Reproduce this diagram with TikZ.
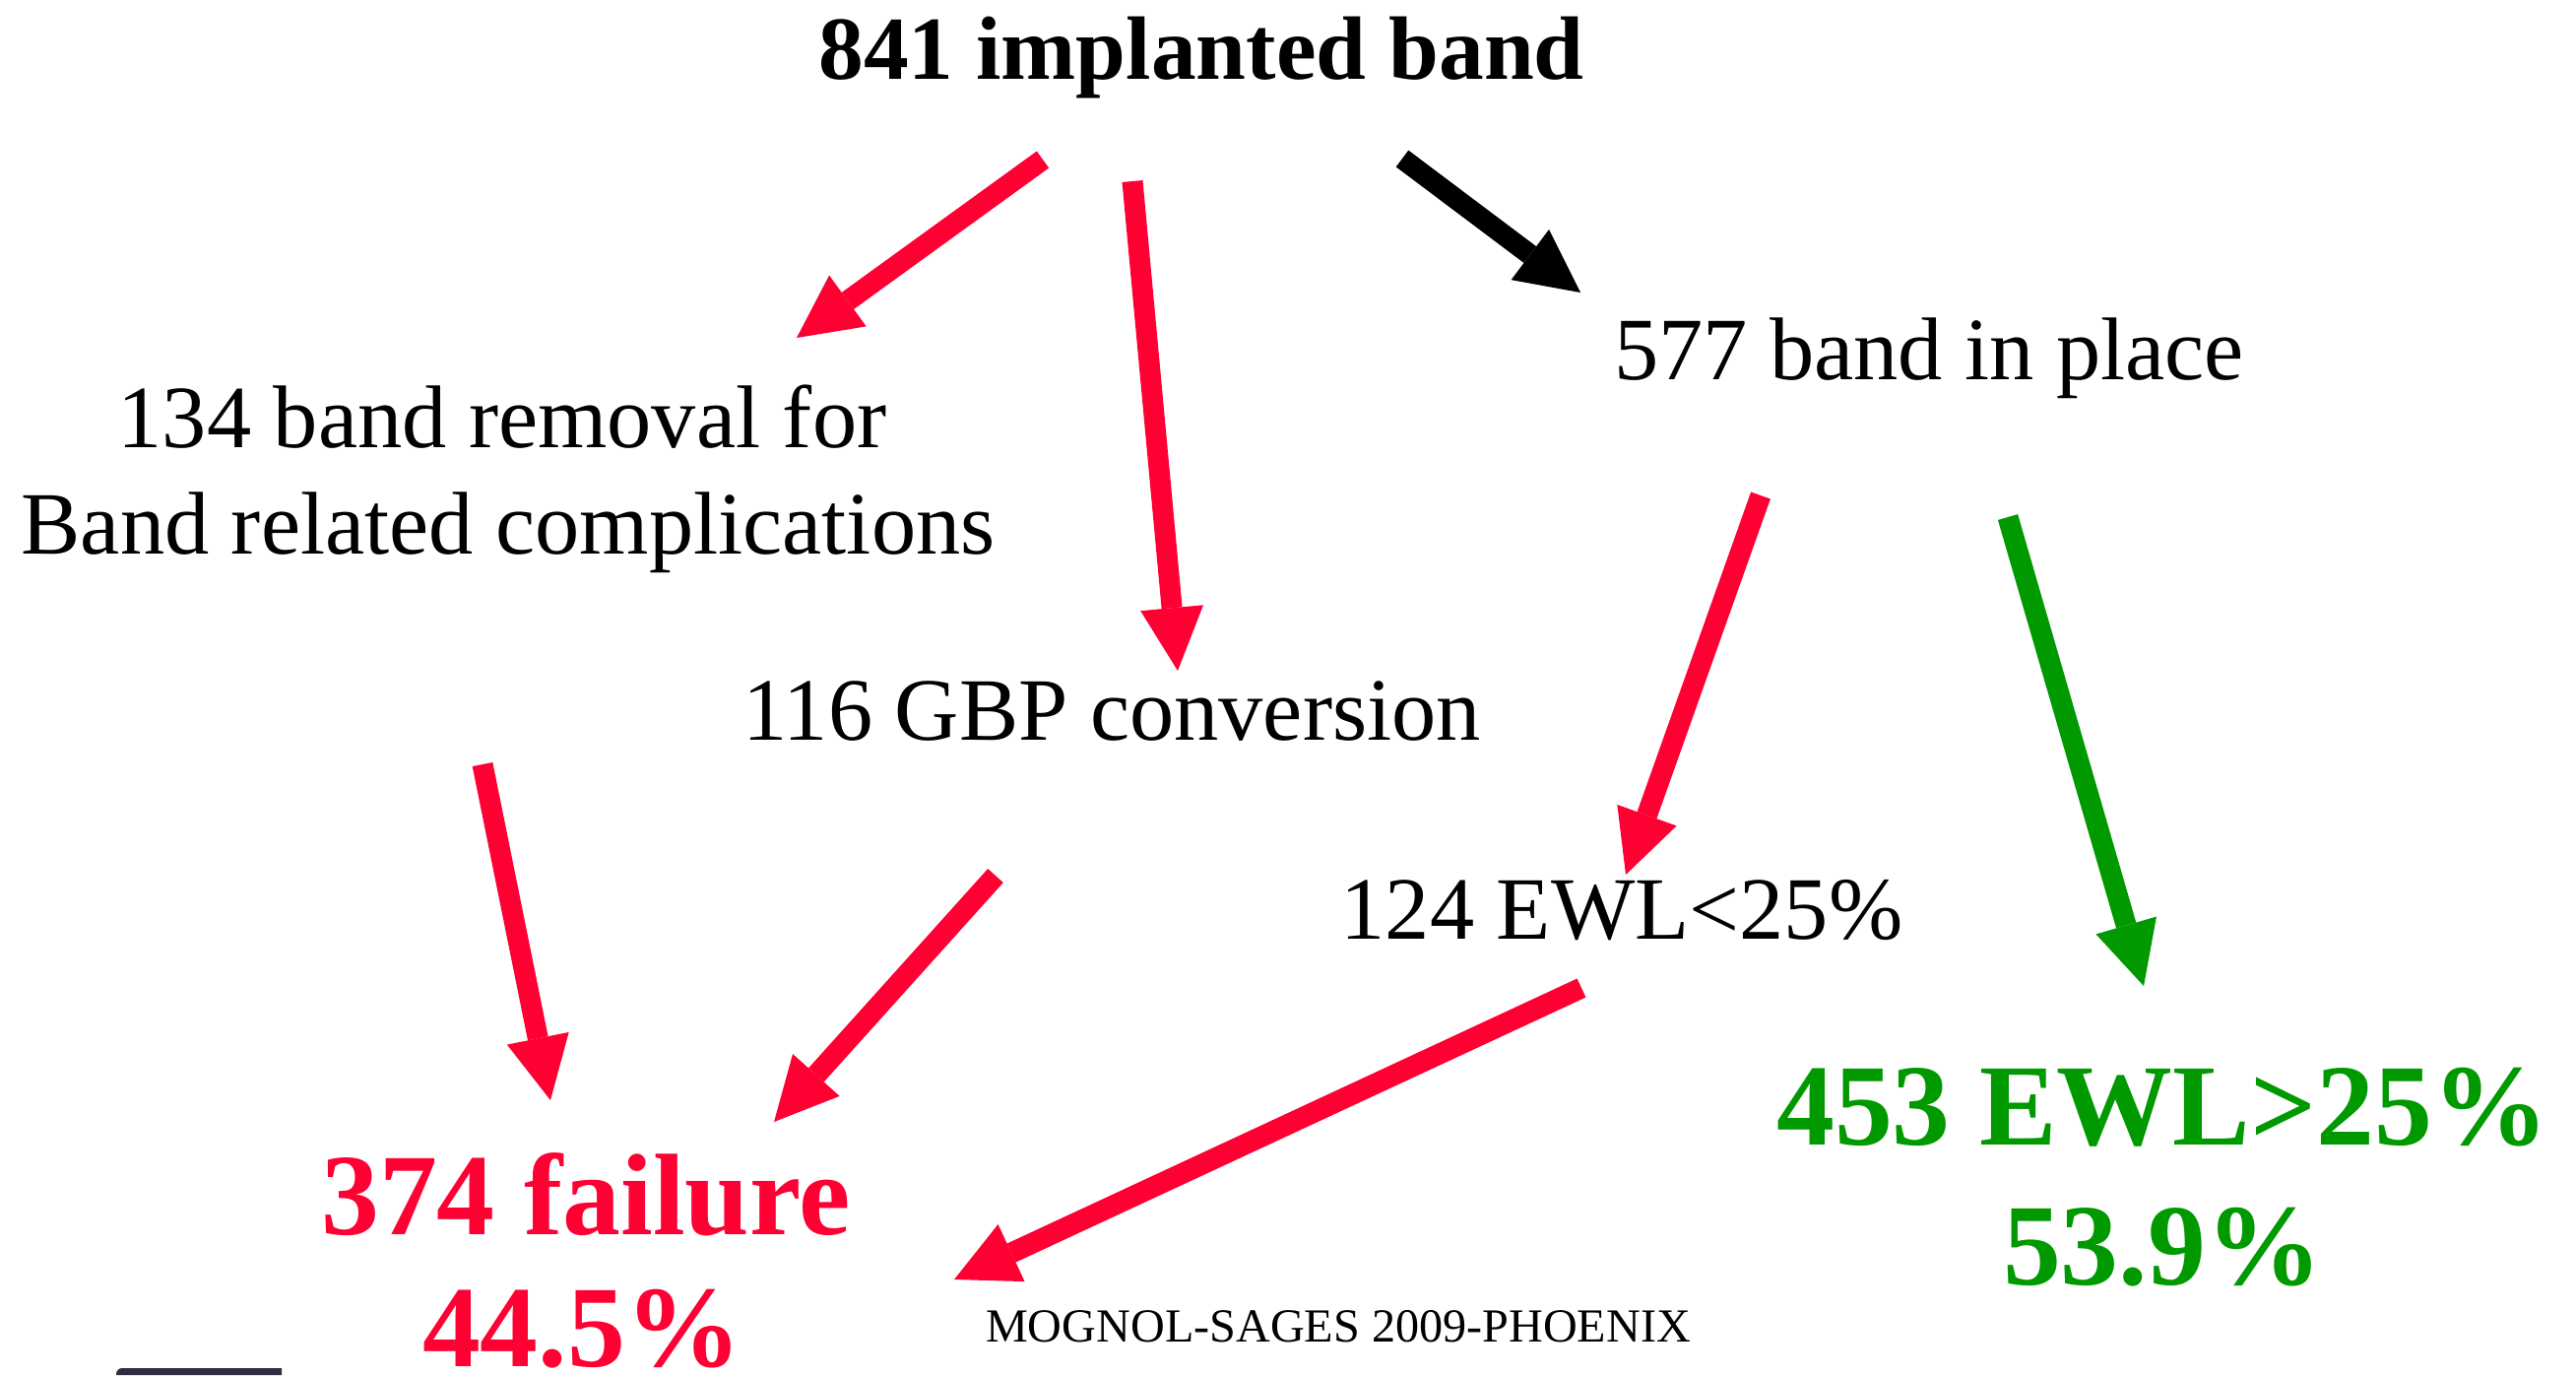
\documentclass[tikz,border=0pt]{standalone}
\usepackage{fontspec}
\setmainfont{Liberation Serif}
\usetikzlibrary{arrows.meta,positioning}
\definecolor{failred}{RGB}{255,0,51}
\definecolor{okgreen}{RGB}{0,153,0}
\definecolor{darkbar}{RGB}{46,46,62}
\newcommand{\stepfont}{\fontsize{25.7}{30}\selectfont}
\newcommand{\headfont}{\fontsize{26}{31}\selectfont\bfseries}
\newcommand{\resultfont}{\fontsize{33.5}{40}\selectfont\bfseries}
\newcommand{\notefont}{\fontsize{13.7}{16}\selectfont}
\tikzset{
  txt/.style={inner sep=0pt, anchor=base},
  flow/.style={line width=0.21cm, -{Triangle[length=0.64cm,width=0.64cm,line width=0pt]}},
}

\begin{document}
\begin{tikzpicture}[x=0.01cm, y=-0.01cm]
  \useasboundingbox (0,0) rectangle (2616,1396);
  %labels
  \node[txt] (top) at (1220,80) {\headfont 841 implanted band};
  \node[txt] (rem1) at (510,454) {\stepfont 134 band removal for};
  \node[txt] (rem2) at (516,562) {\stepfont Band related complications};
  \node[txt] (place) at (1959,385) {\stepfont 577 band in place};
  \node[txt] (gbp) at (1129,751) {\stepfont 116 GBP conversion};
  \node[txt] (low) at (1647,953) {\stepfont 124 EWL<25\%};
  %results
  \node[txt, failred] (fail) at (595,1253) {\resultfont 374 failure};
  \node[txt, failred] (failp) at (591,1387) {\resultfont 44.5\%};
  \node[txt, okgreen] (ok) at (2196,1162) {\resultfont 453 EWL>25\%};
  \node[txt, okgreen] (okp) at (2196,1304) {\resultfont 53.9\%};
  \node[txt] (note) at (1359,1362) {\notefont MOGNOL-SAGES 2009-PHOENIX};
  %arrow ends
  \coordinate (a1) at (1059,162);  \coordinate (a1p) at (809,343);
  \coordinate (a2) at (1150,184);  \coordinate (a2p) at (1196,681);
  \coordinate (a3) at (1424,161);  \coordinate (a3p) at (1605,297);
  \coordinate (a4) at (1788,503);  \coordinate (a4p) at (1651,888);
  \coordinate (a5) at (2039,525);  \coordinate (a5p) at (2177,1001);
  \coordinate (a6) at (490,776);   \coordinate (a6p) at (559,1117);
  \coordinate (a7) at (1011,889);  \coordinate (a7p) at (786,1139);
  \coordinate (a8) at (1606,1003); \coordinate (a8p) at (969,1299);
  %arrows
  \draw[flow, failred] (a1) -- (a1p);
  \draw[flow, failred] (a2) -- (a2p);
  \draw[flow, black] (a3) -- (a3p);
  \draw[flow, failred] (a4) -- (a4p);
  \draw[flow, okgreen] (a5) -- (a5p);
  \draw[flow, failred] (a6) -- (a6p);
  \draw[flow, failred] (a7) -- (a7p);
  \draw[flow, failred] (a8) -- (a8p);
  %corner
  \fill[darkbar] (118,1396) [rounded corners=0.06cm] -- (118,1389) [sharp corners] -- (286,1389) -- (286,1396) -- cycle;
\end{tikzpicture}
\end{document}
